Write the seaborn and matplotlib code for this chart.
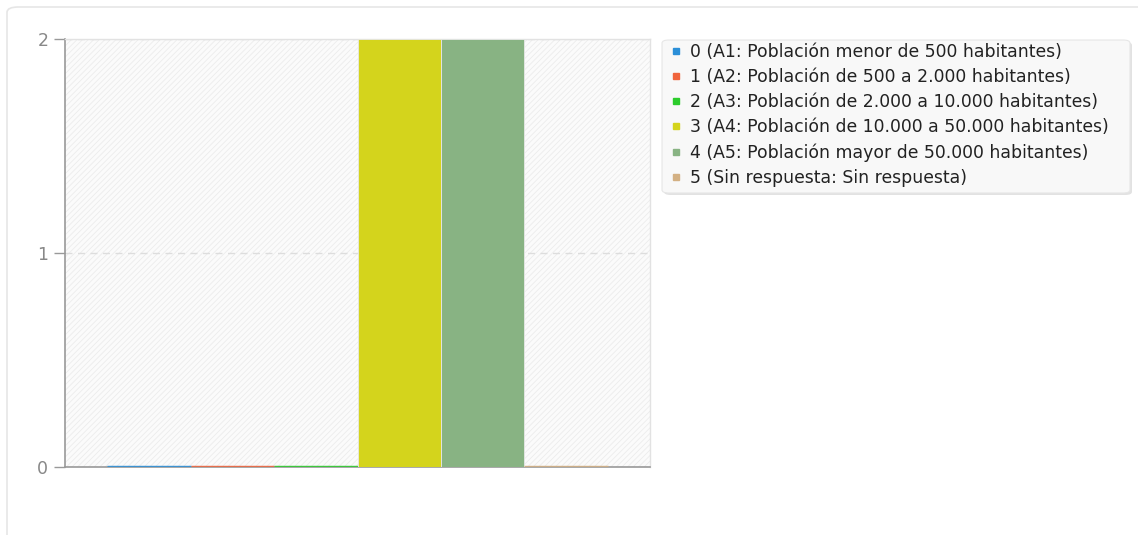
import matplotlib
matplotlib.use("Agg")
import matplotlib.pyplot as plt
import seaborn as sns
import pandas as pd
from matplotlib.patches import FancyBboxPatch, Rectangle
from matplotlib.lines import Line2D
from matplotlib.font_manager import FontProperties

categories = [
    "0 (A1: Población menor de 500 habitantes)",
    "1 (A2: Población de 500 a 2.000 habitantes)",
    "2 (A3: Población de 2.000 a 10.000 habitantes)",
    "3 (A4: Población de 10.000 a 50.000 habitantes)",
    "4 (A5: Población mayor de 50.000 habitantes)",
    "5 (Sin respuesta: Sin respuesta)",
]
values = [0, 0, 0, 2, 2, 0]
colors = ["#2b8fd8", "#f0643c", "#2ccc2c", "#d4d41c", "#88b383", "#d3b083"]
yticks = [0, 1, 2]

W, H = 1138, 535

sns.set_theme(style="white")
plt.rcParams["font.family"] = ["DejaVu Sans"]
plt.rcParams["font.sans-serif"] = ["DejaVu Sans"]
plt.rcParams["hatch.linewidth"] = 0.6
plt.rcParams["hatch.color"] = "#ececec"

fig = plt.figure(figsize=(W / 100, H / 100), dpi=100)
fig.patch.set_facecolor("white")


def px_box(x0, y0, x1, y1, **kw):
    """Rounded box given in pixel coords (top-left origin)."""
    return FancyBboxPatch((x0 / W, 1 - y1 / H), (x1 - x0) / W, (y1 - y0) / H,
                          transform=fig.transFigure, **kw)


# outer card border
fig.patches.append(px_box(7, 7, W + 20, H + 20,
                          boxstyle="round,pad=0,rounding_size=0.01",
                          facecolor="none", edgecolor="#e6e6e6",
                          linewidth=1.2, zorder=-5))
# legend card with soft shadow
fig.patches.append(px_box(664, 42, 1132, 195,
                          boxstyle="round,pad=0,rounding_size=0.006",
                          facecolor="#e2e2e2", edgecolor="none", zorder=-4))
fig.patches.append(px_box(662, 40, 1130, 193,
                          boxstyle="round,pad=0,rounding_size=0.006",
                          facecolor="#f8f8f8", edgecolor="#e6e6e6",
                          linewidth=0.8, zorder=-3))

ax = fig.add_axes([65 / W, 1 - 467 / H, (650 - 65) / W, (467 - 39) / H])
ax.set_zorder(2)
ax.set_facecolor("none")
ax.add_patch(Rectangle((0, 0), 1, 1, transform=ax.transAxes, facecolor="#fbfbfb",
                       edgecolor="#ececec", hatch="//////", linewidth=0, zorder=0))

df = pd.DataFrame({"grp": [""] * len(categories), "cat": categories, "val": values})
sns.barplot(data=df, x="grp", y="val", hue="cat", hue_order=categories,
            palette=colors, width=0.855, dodge=True, ax=ax, legend=False,
            saturation=1, zorder=3)
bars = [p for p in ax.patches if not p.get_hatch()]
for patch, c, v in zip(bars, colors, values):
    patch.set_edgecolor(c if v == 0 else "#e8e8e8")
    patch.set_linewidth(2.5 if v == 0 else 0.6)
    patch.set_facecolor(c)
    if v == 0:
        patch.set_alpha(0.85)

ax.set_xlim(-0.5, 0.5)
ax.set_ylim(0, 2)
ax.set_yticks(yticks)
ax.set_yticklabels([str(t) for t in yticks], color="#888888", fontsize=12.5)
ax.set_xticks([])
ax.set_xlabel("")
ax.set_ylabel("")
ax.tick_params(axis="y", length=8, width=1, color="#999999", left=True, pad=4)
ax.yaxis.grid(True, linestyle=(0, (5, 4)), color="#dddddd", linewidth=1)
ax.set_axisbelow(True)
for s in ["left", "bottom"]:
    ax.spines[s].set_color("#999999")
    ax.spines[s].set_linewidth(1.2)
for s in ["top", "right"]:
    ax.spines[s].set_color("#e2e2e2")
    ax.spines[s].set_linewidth(1.0)

handles = [Line2D([0], [0], marker="s", linestyle="none", markersize=5,
                  markerfacecolor=c, markeredgecolor=c) for c in colors]
leg = fig.legend(handles, categories, loc="upper left",
                 bbox_to_anchor=(671 / W, 1 - 43 / H), frameon=False,
                 prop=FontProperties(size=12.4),
                 handlelength=0.6, handletextpad=0.5,
                 labelspacing=0.415, borderpad=0.0, borderaxespad=0.0)
for t in leg.get_texts():
    t.set_color("#222222")

fig.savefig("out.png", dpi=100)
